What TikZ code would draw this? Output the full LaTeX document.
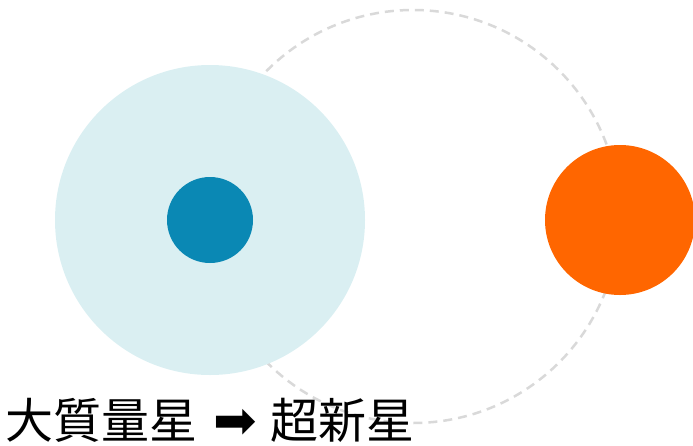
\documentclass[tikz,border=0pt]{standalone}
\usepackage{fontspec}
\newfontfamily\cjk{Noto Sans CJK JP}
\newfontfamily\djv{DejaVu Sans}
\definecolor{halo}{HTML}{DAEFF2}
\definecolor{core}{HTML}{0A88B4}
\definecolor{orng}{HTML}{FF6600}
\definecolor{orbit}{HTML}{D9D9D9}
\begin{document}
\begin{tikzpicture}[x=1pt,y=-1pt,
  disc/.style={circle,inner sep=0pt,draw=none},
  orbitline/.style={draw=orbit,line width=2.5pt,dash pattern=on 9pt off 6pt}]
\useasboundingbox (0,0) rectangle (693,445);
\draw[orbitline] (413,216.5) circle[radius=206.5];
\node[disc,fill=halo,minimum size=310pt] (halo) at (210,220) {};
\node[disc,fill=core,minimum size=86pt] (core) at (210,220) {};
\node[disc,fill=orng,minimum size=150pt] (star) at (620,220) {};
\node[anchor=base west,inner sep=0pt,font=\fontsize{48}{48}\selectfont] (label) at (5,438) {\cjk 大質量星\hspace{16pt}{\djv\fontsize{52}{52}\selectfont ➡}\hspace{14pt}超新星};
\end{tikzpicture}
\end{document}
